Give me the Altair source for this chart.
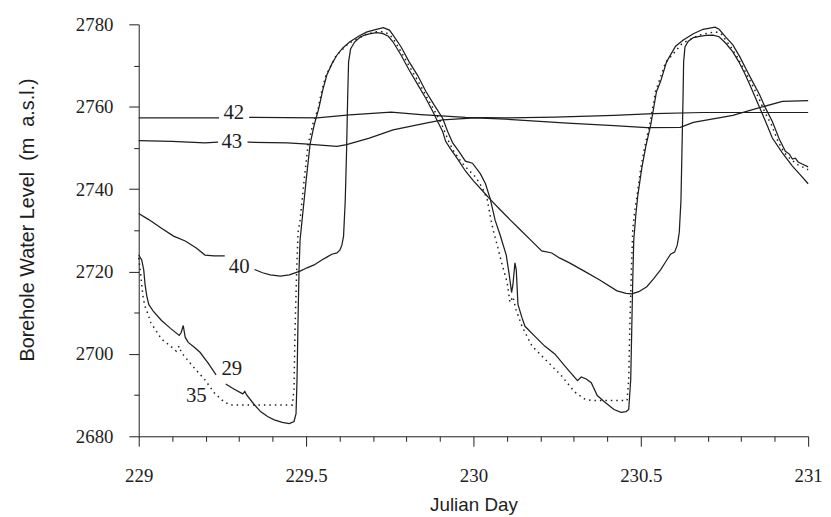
import altair as alt
import pandas as pd

# ---------------- data ----------------
# None marks a break in a line (where a curve label sits)
day_42 = [229.000, 229.240, None, 229.330, 229.533, 229.630, 229.754, 229.843, 229.976,
          230.095, 230.243, 230.420, 230.538, 230.686, 231.000]
lvl_42 = [2757.3, 2757.3, None, 2757.4, 2757.3, 2758.0, 2758.7, 2758.1, 2757.4,
          2757.3, 2757.5, 2757.9, 2758.3, 2758.6, 2758.6]

day_43 = [229.000, 229.100, 229.198, 229.237, None, 229.325, 229.444, 229.494, 229.592,
          229.621, 229.689, 229.760, 229.858, 229.908, 230.006, 230.095, 230.281, 230.420,
          230.518, 230.618, 230.657, 230.775, 230.834, 230.923, 231.000]
lvl_43 = [2751.8, 2751.6, 2751.2, 2751.4, None, 2751.4, 2751.2, 2751.0, 2750.4,
          2750.8, 2752.4, 2754.4, 2756.0, 2756.8, 2757.3, 2757.0, 2756.0, 2755.4,
          2754.9, 2755.0, 2756.2, 2757.9, 2759.3, 2761.3, 2761.5]

day_40 = [229.000, 229.030, 229.068, 229.104, 229.139, 229.172, 229.198, 229.225, 229.257, None,
          229.346, 229.370, 229.393, 229.423, 229.450, 229.482, 229.503, 229.524, 229.547, 229.562,
          229.577, 229.592, 229.601, 229.607, 229.612, 229.617, 229.621, 229.624, 229.627, 229.633,
          229.645, 229.660, 229.675, 229.689, 229.710, 229.728, 229.746, 229.760, 229.784, 229.808,
          229.834, 229.858, 229.879, 229.893, 229.908, 229.917, 229.932, 229.953, 229.976, 230.000,
          230.027, 230.050, 230.080, 230.109, 230.139, 230.169, 230.204, 230.234, 230.257, 230.287,
          230.331, 230.376, 230.429, 230.456, 230.473, 230.494, 230.518, 230.538, 230.559, 230.574,
          230.589, 230.601, 230.609, 230.615, 230.620, 230.623, 230.626, 230.628, 230.632, 230.642,
          230.657, 230.675, 230.695, 230.716, 230.734, 230.754, 230.775, 230.793, 230.811, 230.828,
          230.846, 230.864, 230.879, 230.893, 230.923, 230.953, 230.976, 231.000]
lvl_40 = [2734.1, 2732.6, 2730.5, 2728.6, 2727.4, 2725.7, 2724.0, 2723.8, 2723.8, None,
          2720.5, 2719.7, 2719.2, 2718.9, 2719.2, 2720.1, 2720.9, 2721.6, 2722.8, 2723.5,
          2724.2, 2724.5, 2725.2, 2726.4, 2728.6, 2737.2, 2749.2, 2761.3, 2770.9, 2774.0,
          2775.7, 2776.8, 2777.4, 2777.7, 2778.0, 2777.8, 2777.1, 2775.7, 2772.5, 2768.9,
          2765.3, 2762.0, 2758.8, 2756.4, 2754.0, 2751.6, 2749.7, 2747.3, 2744.4, 2742.0,
          2739.6, 2737.5, 2735.0, 2732.6, 2730.2, 2727.8, 2725.0, 2724.5, 2723.3, 2722.1,
          2720.1, 2718.0, 2715.3, 2714.7, 2714.6, 2715.1, 2716.3, 2718.2, 2720.4, 2722.3,
          2724.2, 2724.7, 2726.4, 2729.5, 2737.2, 2749.2, 2761.3, 2770.9, 2774.5, 2775.9,
          2776.8, 2777.1, 2777.3, 2777.4, 2777.0, 2775.4, 2773.3, 2770.9, 2768.0, 2764.9,
          2761.5, 2758.1, 2755.2, 2752.4, 2748.8, 2745.6, 2743.5, 2741.3]

day_29 = [229.000, 229.009, 229.015, 229.019, 229.024, 229.030, 229.044, 229.068, 229.095, 229.121,
          229.127, 229.133, 229.139, 229.148, 229.166, 229.183, 229.207, 229.231, None,
          229.260, 229.284, 229.311, 229.317, 229.322, 229.343, 229.364, 229.385, 229.405, 229.429,
          229.450, 229.464, 229.470, 229.473, 229.476, 229.479, 229.482, 229.488, 229.500, 229.512,
          229.524, 229.538, 229.550, 229.562, 229.577, 229.592, 229.609, 229.630, 229.657, 229.680,
          229.710, 229.731, 229.749, 229.760, 229.784, 229.808, 229.834, 229.858, 229.882, 229.908,
          229.923, 229.938, 229.956, 229.976, 229.997, 230.021, 230.036, 230.050, 230.065, 230.080,
          230.098, 230.107, 230.114, 230.118, 230.124, 230.128, 230.133, 230.145, 230.154, 230.183,
          230.213, 230.243, 230.281, 230.311, 230.322, 230.337, 230.352, 230.370, 230.391, 230.420,
          230.441, 230.456, 230.464, 230.470, 230.473, 230.476, 230.479, 230.485, 230.491, 230.503,
          230.515, 230.530, 230.547, 230.559, 230.577, 230.604, 230.627, 230.657, 230.686, 230.722,
          230.734, 230.754, 230.775, 230.796, 230.814, 230.834, 230.855, 230.873, 230.893, 230.914,
          230.932, 230.944, 230.953, 230.962, 230.970, 230.982, 231.000]
lvl_29 = [2724.0, 2722.8, 2720.4, 2716.8, 2714.1, 2712.0, 2710.3, 2708.1, 2706.2, 2704.5,
          2705.2, 2706.9, 2704.0, 2702.8, 2701.6, 2700.4, 2697.8, 2694.9, None,
          2692.7, 2691.5, 2690.3, 2690.9, 2690.1, 2687.9, 2686.0, 2684.8, 2684.0, 2683.4,
          2683.1, 2683.6, 2685.5, 2693.9, 2708.4, 2720.4, 2727.6, 2732.4, 2742.0, 2750.9,
          2755.5, 2759.6, 2764.1, 2767.7, 2770.4, 2772.5, 2774.2, 2775.7, 2777.1, 2778.1,
          2778.8, 2779.2, 2778.6, 2777.4, 2774.5, 2770.9, 2767.5, 2763.7, 2760.5, 2757.2,
          2754.0, 2751.2, 2749.2, 2746.8, 2746.3, 2743.7, 2741.3, 2737.7, 2732.4, 2728.8,
          2724.0, 2719.2, 2714.9, 2716.8, 2722.1, 2720.4, 2712.0, 2708.8, 2706.7, 2704.3,
          2701.9, 2700.0, 2696.3, 2693.5, 2694.4, 2693.9, 2693.0, 2689.9, 2688.4, 2686.5,
          2685.8, 2686.0, 2686.5, 2693.9, 2706.0, 2718.0, 2727.6, 2733.6, 2738.4, 2745.1,
          2750.4, 2755.7, 2763.7, 2766.1, 2770.9, 2774.7, 2776.2, 2777.7, 2778.8, 2779.3,
          2778.8, 2776.9, 2775.0, 2772.1, 2769.2, 2766.1, 2762.9, 2759.6, 2756.4, 2752.1,
          2749.2, 2748.5, 2747.3, 2747.5, 2746.6, 2746.1, 2745.4]

day_35 = [229.000, 229.006, 229.012, 229.018, 229.027, 229.036, 229.068, 229.095, 229.112, 229.121,
          229.127, 229.148, 229.169, 229.198, 229.225, 229.254, 229.275, 229.459, 229.464, 229.467,
          229.472, 229.476, 229.482, 229.494, 229.506, 229.521, 229.536, 229.547, 229.559, 229.589,
          229.627, 229.657, 229.680, 229.710, 229.728, 229.746, 229.760, 229.781, 229.808, 229.834,
          229.858, 229.888, 229.908, 229.926, 229.941, 229.962, 229.976, 230.006, 230.027, 230.041,
          230.050, 230.059, 230.071, 230.086, 230.101, 230.109, 230.118, 230.127, 230.145, 230.175,
          230.213, 230.263, 230.302, 230.331, 230.352, 230.459, 230.464, 230.467, 230.472, 230.476,
          230.482, 230.488, 230.500, 230.512, 230.527, 230.544, 230.574, 230.624, 230.675, 230.722,
          230.740, 230.769, 230.790, 230.811, 230.831, 230.852, 230.870, 230.891, 230.911, 230.929,
          230.947, 230.970, 231.000]
lvl_35 = [2723.3, 2719.2, 2714.4, 2711.7, 2709.8, 2707.6, 2703.6, 2701.9, 2700.7, 2701.9,
          2700.4, 2698.3, 2696.3, 2693.7, 2690.6, 2688.4, 2687.6, 2687.6, 2691.5, 2706.0,
          2720.4, 2729.5, 2732.4, 2742.0, 2750.9, 2756.0, 2759.6, 2763.9, 2767.5, 2772.3,
          2775.4, 2776.6, 2777.6, 2778.2, 2778.2, 2777.7, 2776.6, 2773.7, 2769.9, 2766.3,
          2762.7, 2758.4, 2755.2, 2751.6, 2749.2, 2746.8, 2745.4, 2743.0, 2740.3, 2737.5,
          2733.6, 2730.0, 2726.4, 2721.6, 2717.3, 2712.5, 2713.9, 2710.8, 2706.7, 2701.9,
          2698.8, 2694.7, 2690.8, 2689.1, 2688.7, 2688.7, 2693.9, 2706.0, 2720.4, 2730.0,
          2734.8, 2737.9, 2745.1, 2750.4, 2755.7, 2763.7, 2770.7, 2775.4, 2777.4, 2778.2,
          2777.7, 2774.5, 2771.8, 2768.7, 2765.6, 2762.2, 2758.8, 2755.5, 2751.4, 2748.8,
          2747.3, 2745.9, 2744.7]

# curve labels
label_text = ["42", "43", "40", "29", "35"]
label_day = [229.284, 229.278, 229.300, 229.278, 229.172]
label_lvl = [2758.4, 2751.4, 2721.2, 2696.2, 2689.7]

x_major_ticks = [229.0, 229.5, 230.0, 230.5, 231.0]
x_minor_ticks = [229.1, 229.2, 229.3, 229.4, 229.6, 229.7, 229.8, 229.9,
                 230.1, 230.2, 230.3, 230.4, 230.6, 230.7, 230.8, 230.9]
y_ticks = [2680, 2690, 2700, 2710, 2720, 2730, 2740, 2750, 2760, 2770, 2780]

# ---------------- build table ----------------
rows = []
for name, ds, ls, style in [("42", day_42, lvl_42, "solid"), ("43", day_43, lvl_43, "solid"),
                            ("40", day_40, lvl_40, "solid"), ("29", day_29, lvl_29, "solid"),
                            ("35", day_35, lvl_35, "dotted")]:
    seg = 0
    for i, (d, v) in enumerate(zip(ds, ls)):
        if d is None:
            seg += 1
            continue
        rows.append({"day": d, "level": v, "series": name, "seg": f"{name}_{seg}",
                     "style": style, "idx": i})
df = pd.DataFrame(rows)
lab = pd.DataFrame({"text": label_text, "day": label_day, "level": label_lvl})

INK = "#1e1e1e"
xscale = alt.Scale(domain=[229, 231], nice=False, zero=False)
yscale = alt.Scale(domain=[2680, 2780], nice=False, zero=False)

Y_MAJOR = "round(datum.value) % 20 === 0"

x_axis_major = alt.Axis(
    orient="bottom", values=x_major_ticks, format="~g", grid=False,
    tickSize=10,
    labelFont="Liberation Serif", labelFontSize=19, labelColor=INK,
    labelBaseline="alphabetic", labelPadding=36, labelFlush=False, labelOverlap=False,
    domainColor=INK, tickColor=INK, domainWidth=1, tickWidth=1,
    title="Julian Day", titleFont="Liberation Sans", titleFontSize=19, titleFontWeight="normal",
    titleColor=INK, titleBaseline="alphabetic", titleY=75,
)
x_axis_minor = alt.Axis(
    orient="bottom", values=x_minor_ticks, grid=False, labels=False, domain=False,
    tickSize=5, tickColor=INK, tickWidth=1, title=None,
)
y_axis = alt.Axis(
    values=y_ticks, grid=False, format="d",
    labelExpr=Y_MAJOR + " ? format(datum.value, 'd') : ''",
    tickSize={"condition": {"test": Y_MAJOR, "value": 10}, "value": 5},
    labelFont="Liberation Serif", labelFontSize=19, labelColor=INK,
    labelPadding=16, labelFlush=False, labelOverlap=False,
    domainColor=INK, tickColor=INK, domainWidth=1, tickWidth=1,
    title="Borehole Water Level\u00a0\u00a0(m\u00a0\u00a0a.s.l.)", titleFont="Liberation Sans",
    titleFontSize=20, titleFontWeight="normal", titleColor=INK,
    titleX=-112, titleY=197, titleBaseline="middle",
)

base = alt.Chart(df)
solid = base.transform_filter(alt.datum.style == "solid").mark_line(
    color=INK, strokeWidth=1.25, interpolate="linear"
).encode(
    x=alt.X("day:Q", scale=xscale, axis=x_axis_major),
    y=alt.Y("level:Q", scale=yscale, axis=y_axis),
    detail="seg:N",
    order="idx:Q",
)
dotted = base.transform_filter(alt.datum.style == "dotted").mark_line(
    color=INK, strokeWidth=1.5, strokeDash=[1.5, 4]
).encode(
    x=alt.X("day:Q", scale=xscale, axis=x_axis_minor),
    y=alt.Y("level:Q", scale=yscale),
    detail="seg:N",
    order="idx:Q",
)
labels = alt.Chart(lab).mark_text(
    font="Liberation Serif", fontSize=21, color=INK, align="center", baseline="middle"
).encode(
    x=alt.X("day:Q", scale=xscale, axis=None),
    y=alt.Y("level:Q", scale=yscale),
    text="text:N",
)

chart = alt.layer(solid, dotted, labels).resolve_axis(x="independent").properties(
    width=676, height=416,
    autosize=alt.AutoSizeParams(type="none"),
    padding={"left": 132, "top": 14, "right": 15, "bottom": 79},
    background="white",
).configure_view(stroke=None)

chart.save("out.html", embed_options={"renderer": "svg", "actions": False})
